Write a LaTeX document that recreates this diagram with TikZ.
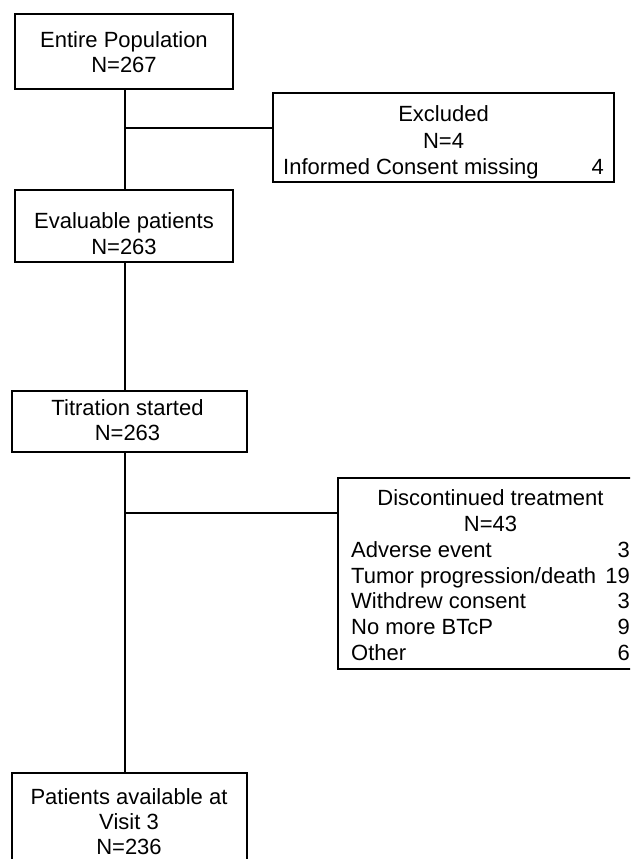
\documentclass[tikz,border=0pt]{standalone}
\usepackage{fontspec}
\setmainfont{Liberation Sans}
\newcommand{\fsz}{\fontsize{22}{26}\selectfont}
\begin{document}
\begin{tikzpicture}[x=1pt,y=-1pt,
  box/.style={draw, line width=2.6pt, inner sep=0pt},
  conn/.style={line width=2.2pt},
  lbl/.style={inner sep=0pt, font=\fsz, anchor=base},
  lbll/.style={lbl, anchor=base west},
  lblr/.style={lbl, anchor=base east}]
\clip (0,0) rectangle (630,859);
\fill[white] (0,0) rectangle (630,859);
% boxes
\node[box, minimum width=218pt, minimum height=75pt] (b1) at (124,51.5) {};
\node[box, minimum width=218pt, minimum height=72pt] (b2) at (124,226) {};
\node[box, minimum width=235pt, minimum height=61pt] (b3) at (129.5,421.5) {};
\node[box, minimum width=235pt, minimum height=110pt] (b4) at (129.5,828) {};
\node[box, minimum width=341pt, minimum height=89pt] (excl) at (443.5,137.5) {};
\node[box, minimum width=305pt, minimum height=191pt] (disc) at (490.5,573.5) {};
% texts
\node[lbl] (t1a) at (124,48) {Entire Population};
\node[lbl] (t1b) at (124,73) {N=267};
\node[lbl] (t2a) at (124,228) {Evaluable patients};
\node[lbl] (t2b) at (124,254) {N=263};
\node[lbl] (t3a) at (127.5,415) {Titration started};
\node[lbl] (t3b) at (127.5,440) {N=263};
\node[lbl] (t4a) at (129,804) {Patients available at};
\node[lbl] (t4b) at (129,829) {Visit 3};
\node[lbl] (t4c) at (129,854) {N=236};
\node[lbl] (eA) at (443.5,121) {Excluded};
\node[lbl] (eB) at (443.5,148) {N=4};
\node[lbll] (eC) at (283,174) {Informed Consent missing};
\node[lblr] (eD) at (604,174) {4};
\node[lbl] (dA) at (490.5,505) {Discontinued treatment};
\node[lbl] (dB) at (490.5,531) {N=43};
\node[lbll] (d1) at (351,557) {Adverse event};
\node[lblr] (n1) at (630,557) {3};
\node[lbll] (d2) at (351,583) {Tumor progression/death};
\node[lblr] (n2) at (630,583) {19};
\node[lbll] (d3) at (351,608) {Withdrew consent};
\node[lblr] (n3) at (630,608) {3};
\node[lbll] (d4) at (351,634) {No more BTcP};
\node[lblr] (n4) at (630,634) {9};
\node[lbll] (d5) at (351,660) {Other};
\node[lblr] (n5) at (630,660) {6};
% connectors
\coordinate (j1) at (125,128);
\coordinate (j2) at (125,513);
\draw[conn] (b1.south -| j1) -- (b2.north -| j1);
\draw[conn] (j1) -- (j1 -| excl.west);
\draw[conn] (b2.south -| j1) -- (b3.north -| j1);
\draw[conn] (b3.south -| j2) -- (b4.north -| j2);
\draw[conn] (j2) -- (j2 -| disc.west);
\end{tikzpicture}
\end{document}
